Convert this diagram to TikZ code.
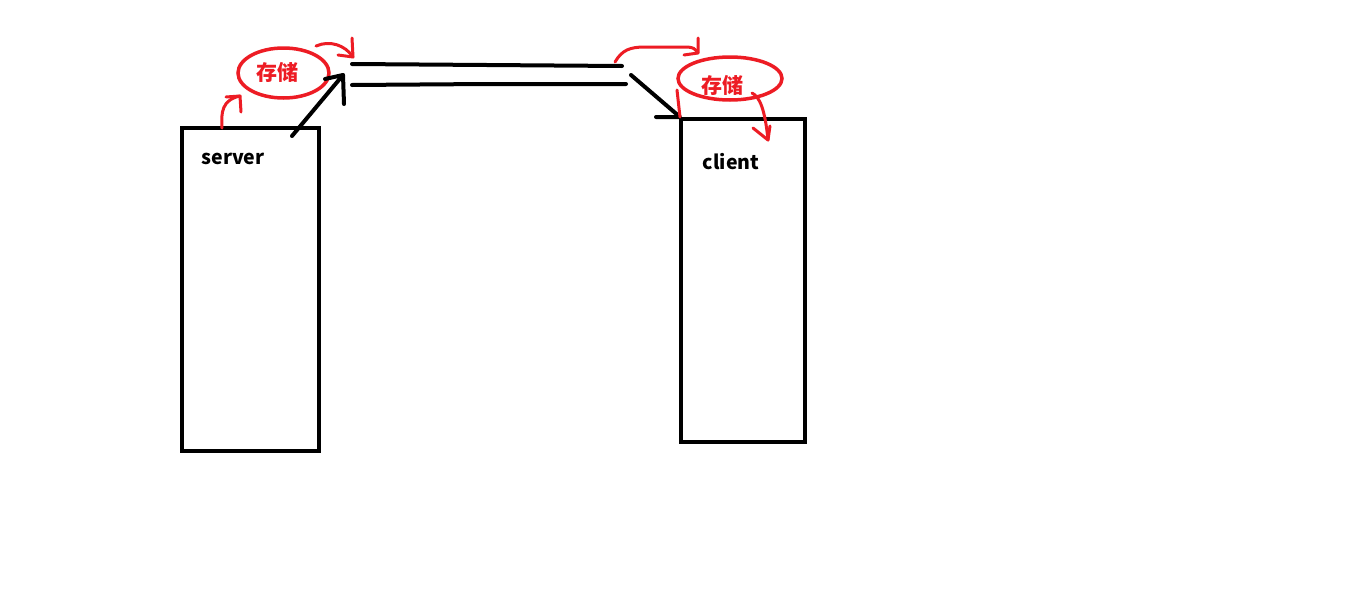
\documentclass[tikz,border=0pt]{standalone}
\usepackage{fontspec}
\setmainfont{Noto Sans CJK SC}
\usetikzlibrary{shapes.geometric}
\definecolor{pred}{RGB}{237,28,36}
\tikzset{
  box/.style={draw=black, line width=4pt, minimum width=#1, inner sep=0pt},
  lbl/.style={font=\bfseries\fontsize{19.5}{22}\selectfont, text=black, inner sep=0pt},
  store/.style={draw=pred, line width=3.5pt, ellipse, inner sep=0pt},
  storetxt/.style={text=pred, font=\bfseries\fontsize{21}{24}\selectfont, inner sep=0pt},
  redln/.style={draw=pred, line width=3pt, line cap=round, line join=round},
  blkln/.style={draw=black, line width=4pt, line cap=round, line join=round},
}
\begin{document}
\begin{tikzpicture}[x=1pt,y=-1pt]
\useasboundingbox[fill=white] (0,0) rectangle (1358,600);
% boxes
\node[box=137pt, minimum height=323pt] (server) at (250.5,289.5) {};
\node[box=124pt, minimum height=323pt] (client) at (743,280.5) {};
\node[lbl] (serverlbl) at (233,159) {server};
\node[lbl] (clientlbl) at (731,162) {client};
% storage ellipses
\node[store, minimum width=91pt, minimum height=50pt] (s1) at (283.5,73) {};
\node[storetxt] (s1t) at (277,72) {存储};
\node[store, minimum width=104pt, minimum height=43pt] (s2) at (730,78.5) {};
\node[storetxt] (s2t) at (722,85) {存储};
% channel lines
\coordinate (l1a) at (352,64); \coordinate (l1m) at (487,65); \coordinate (l1b) at (622,66);
\coordinate (l2a) at (352,85); \coordinate (l2m) at (487,84); \coordinate (l2b) at (626,84);
\draw[blkln] (l1a) -- (l1m) -- (l1b);
\draw[blkln] (l2a) -- (l2m) -- (l2b);
% server -> channel (black)
\coordinate (a1s) at (292,136); \coordinate (a1t) at (343,75);
\draw[blkln] (a1s) -- (a1t) -- (325,79);
\draw[blkln] (a1t) -- (344,104);
% channel -> client (black)
\coordinate (a2s) at (631,75); \coordinate (a2t) at (680,117);
\draw[blkln] (a2s) -- (a2t) -- (656,117);
% server -> storage (red)
\coordinate (r1s) at (222,128); \coordinate (r1t) at (240,96);
\draw[redln] (r1s) .. controls (221,112) and (222,100) .. (r1t);
\draw[redln] (226,97) -- (r1t) -- (241,112);
% storage -> channel (red)
\coordinate (r2s) at (316,46); \coordinate (r2t) at (353,57);
\draw[redln] (r2s) .. controls (330,40) and (345,45) .. (r2t);
\draw[redln] (352,38) -- (r2t) -- (338,55);
% channel -> storage 2 (red)
\coordinate (r3s) at (615,62); \coordinate (r3t) at (698,53);
\draw[redln] (r3s) .. controls (622,50) and (630,47) .. (645,47) -- (688,47) .. controls (694,48) .. (r3t);
\draw[redln] (698,38) -- (r3t) -- (684,55);
% red tick at client corner
\coordinate (r4a) at (677,90); \coordinate (r4b) at (680,117);
\draw[redln] (r4a) -- (r4b);
% storage 2 -> client (red)
\coordinate (r5s) at (752,93); \coordinate (r5t) at (768,140);
\draw[redln] (r5s) .. controls (760,97) and (765,110) .. (r5t);
\draw[redln] (753,128) -- (r5t) -- (770,126);
\end{tikzpicture}
\end{document}
